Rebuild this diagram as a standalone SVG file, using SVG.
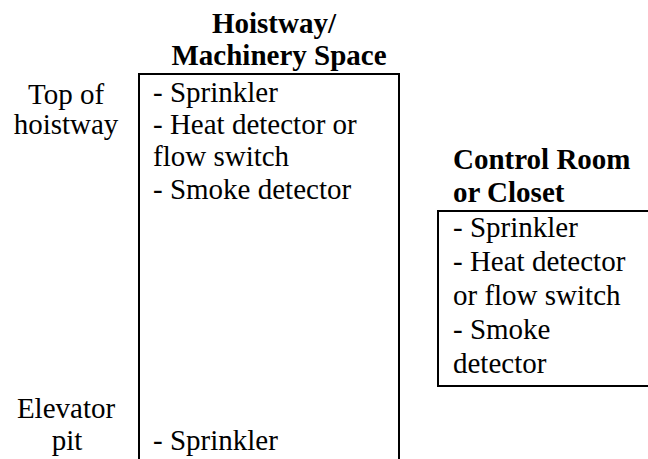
<svg xmlns="http://www.w3.org/2000/svg" width="648" height="459" viewBox="0 0 648 459">
<style>
text{font-size:29px;fill:#000}
.b{font-weight:bold}
.c{text-anchor:middle}
.box{fill:none;stroke:#000;stroke-width:2}
</style>
<rect width="648" height="459" fill="#fff"/>
<g font-family="Liberation Serif, DejaVu Serif, serif">
<g id="labels">
<text class="c" x="66" y="104">Top of</text>
<text class="c" x="66" y="134">hoistway</text>
<text class="c" x="66" y="418">Elevator</text>
<text class="c" x="67" y="450">pit</text>
</g>
<g id="hoistway">
<text class="b c" x="274" y="33">Hoistway/</text>
<text class="b c" x="279" y="65">Machinery Space</text>
<path class="box" d="M139,470 V74 H399 V470"/>
<text x="153" y="102">- Sprinkler</text>
<text x="153" y="134">- Heat detector or</text>
<text x="153" y="166">flow switch</text>
<text x="153" y="199">- Smoke detector</text>
<text x="153" y="450">- Sprinkler</text>
</g>
<g id="control-room">
<text class="b" x="453" y="169">Control Room</text>
<text class="b" x="453" y="202">or Closet</text>
<path class="box" d="M660,211 H438 V386 H660"/>
<text x="453" y="237">- Sprinkler</text>
<text x="453" y="271">- Heat detector</text>
<text x="453" y="305">or flow switch</text>
<text x="453" y="339">- Smoke</text>
<text x="453" y="373">detector</text>
</g>
</g>
<g id="connectors"></g>
</svg>
